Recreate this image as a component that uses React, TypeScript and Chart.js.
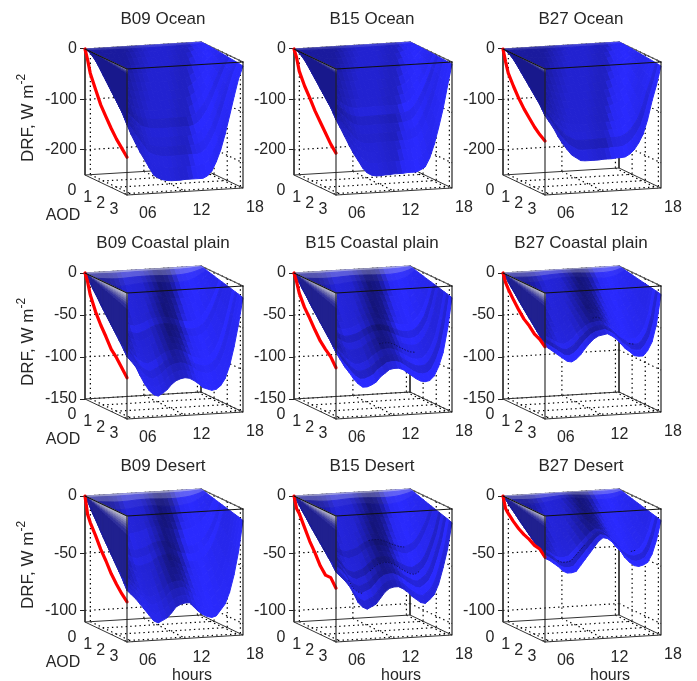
import React, { useEffect, useRef } from "react";
import { Chart, registerables } from "chart.js";

Chart.register(...registerables);

// ---- data ----
const hours = [5.4,5.9,6.4,6.9,7.4,7.9,8.4,8.9,9.4,9.9,10.4,10.9,11.4,11.9,12.4,12.9,13.4,13.9,14.4,14.9,15.4,15.9,16.4,16.9,17.4,17.9,18.4];
const aodGrid = [0,0.05,0.2,0.4,0.6,0.8,1,1.2,1.4,1.6,1.8,2,2.2,2.4,2.6,2.8,3,3.2];
const redAod = [0,0.2,0.4,0.8,1.2,1.6,2,2.4,2.8,3.2];

const frontB09Ocean = [-111,-132,-150,-168,-183,-199,-214,-220,-224,-226,-227,-227,-227,-226,-226,-226,-226,-226,-222,-213,-195,-172,-141,-105,-68,-33,-8];
const frontB15Ocean = [-101,-118,-136,-154,-171,-185,-200,-210,-215,-217,-217,-216,-216,-215,-215,-215,-214,-214,-214,-210,-205,-188,-162,-129,-92,-47,-4];
const frontB27Ocean = [-93,-106,-120,-137,-151,-163,-174,-180,-186,-187,-187,-187,-187,-186,-186,-186,-185,-185,-184,-179,-171,-158,-141,-113,-76,-45,-8];
const frontB09Coast = [-76,-82,-89,-100,-110,-118,-123,-125,-122,-118,-112,-108,-106,-105,-106,-109,-113,-118,-120,-122,-121,-117,-109,-94,-72,-45,-14];
const frontB15Coast = [-71,-80,-89,-96,-104,-110,-114,-114,-112,-109,-103,-99,-95,-94,-94,-96,-100,-104,-108,-111,-112,-111,-106,-95,-79,-51,-14];
const frontB27Coast = [-63,-67,-71,-75,-79,-83,-84,-81,-76,-69,-63,-58,-55,-54,-53,-56,-60,-66,-72,-76,-81,-82,-82,-76,-66,-45,-10];
const frontB09Desert = [-65,-69,-73,-78,-83,-88,-93,-95,-93,-91,-87,-82,-80,-79,-79,-83,-87,-90,-92,-93,-92,-87,-82,-72,-57,-37,-10];
const frontB15Desert = [-49,-53,-57,-62,-69,-77,-81,-83,-81,-79,-74,-69,-66,-65,-65,-67,-70,-74,-77,-80,-81,-78,-74,-65,-51,-35,-12];
const frontB27Desert = [-37,-39,-42,-45,-49,-51,-51,-50,-45,-40,-35,-30,-25,-22,-23,-26,-31,-35,-41,-45,-48,-49,-48,-46,-39,-27,-10];

const redB09Ocean = [0,-19,-43,-70,-96,-115,-133,-149,-162,-175];
const redB15Ocean = [0,-15,-39,-63,-82,-103,-120,-137,-154,-167];
const redB27Ocean = [0,-23,-43,-64,-83,-99,-112,-125,-135,-143];
const redB09Coast = [0,-9,-23,-40,-53,-64,-76,-83,-92,-101];
const redB15Coast = [0,-9,-21,-35,-45,-56,-66,-73,-79,-89];
const redB27Coast = [0,-10,-16,-26,-35,-43,-48,-55,-58,-64];
const redB09Desert = [0,-15,-21,-30,-40,-48,-57,-64,-70,-75];
const redB15Desert = [0,-10,-13,-23,-33,-41,-50,-56,-56,-63];
const redB27Desert = [0,-10,-13,-18,-22,-25,-27,-30,-31,-36];

// share of the front-edge DRF reached at each AOD of aodGrid
const fracOcean = [0,0.002,0.01,0.03,0.07,0.12,0.18,0.25,0.32,0.39,0.46,0.53,0.6,0.67,0.74,0.81,0.9,1];
const fracLand = [0,0.015,0.06,0.12,0.19,0.25,0.31,0.38,0.44,0.5,0.56,0.62,0.68,0.74,0.8,0.86,0.93,1];

const hourTicks = [6, 12, 18];
const hourLabels = ["06", "12", "18"];
const aodTicks = [0, 1, 2, 3];
const ticksOcean = [0, -100, -200];
const ticksCoast = [0, -50, -100, -150];
const ticksDesert = [0, -50, -100];
const bottomOcean = 250;
const bottomCoast = 150;
const bottomDesert = 110;

// thin dark creases on some surfaces: [aodGrid index, first hour index, last hour index]
const creasesB15Coast = [[13, 12, 20]];
const creasesB27Coast = [[13, 13, 15], [15, 20, 21]];
const creasesB15Desert = [[9, 12, 20], [13, 10, 21], [15, 4, 7]];
const creasesB27Desert = [[15, 4, 10], [14, 21, 22]];
const creasesNone: number[][] = [];

// ---- styles ----
const FONT = "'Liberation Sans', Arial, sans-serif";
const TEXT = "#262626";
const oceanStops = [[5.4,.62],[6.5,.72],[8,.82],[10,.82],[11.5,.76],[12.3,.76],[13,.95],[14.5,1],[16,.92],[18.4,1]];
const landStops = [[5.4,.6],[6.3,.68],[7.4,.86],[9.1,.82],[10.2,.64],[11.1,.47],[12.2,.55],[13.4,.95],[14.7,1],[16,.95],[17.5,.9],[18.4,.95]];
const rimOcean = [0,0,0,0,0,0,0,0,0,0,0,0,0,.05,.1,.15,.25];
const rimLand = [0,0,0,0,0,0,0,0,0,0,0,.05,.1,.15,.3,.45,.55];
const hazeOcean = [.35,.12,0,0,0,0,0,0,0,0,0,0,0,0,0,0,0];
const hazeLand = [.6,.28,.05,0,0,0,0,0,0,0,0,0,0,0,0,0,0];
const wedgeFracOcean = [0,.02,.04,.07,.1,1];
const wedgeColorOcean = ["#9c9cb0","#7070a4","#44449a","#262690","#18188c"];
const wedgeFracLand = [0,.03,.06,.09,.12,.16,.2,.26,1];
const wedgeColorLand = ["#c0c0cc","#aaaac4","#9090bc","#7878b4","#6060aa","#4444a2","#30309c","#20208f","#1a1a8e"].slice(0, 8);
const ringsByPanel = [
  [1,1,1,1,1,1,1,1,1,1,1,.95,1.03,1,.96,1.03,1],
  [1,1,1,1,1,1,1,1,1,1,1.05,.95,1,.97,1,1,1],
  [1,1,1,1,1,1,1,1,1,1,1,1,1,1,1,.9,1],
  [1,1,1,1,1,1,1,1,1.08,.97,1,1,1,1.08,.97,1,1],
  [1,1,1,1,1,1,1,1,1,1.05,.9,1,.93,.93,1,.86,1.1],
  [1,1,1,1,1,1,1,1,1,1,1,1,1,1,1.05,.86,1.1],
  [1,1,1,1,1,1,1.06,1.06,1,1.06,1,1,1,1,1,1,1],
  [1,1,1,1,1,1,1,1,1,.9,1,1,.85,1,.86,1.05,.9],
  [1,1,1,1,1,1,1,1,1,1,1,1,1,1,1.1,.88,1.15],
];

// ---- projection of the MATLAB style 3-D box (px per unit) ----
const PX_HOUR = 116 / 13;
const PX_AOD_X = 42 / 3.2;
const PX_AOD_Y = 20 / 3.2;
const RISE_HOUR = 7 / 13;
const BOX_H = 126;
const H0 = hours[0];
const H1 = hours[hours.length - 1];
const AMAX = aodGrid[aodGrid.length - 1];

type Spec = { title: string; front: number[]; red: number[]; frac: number[]; ticks: number[]; bottom: number; stops: number[][]; skew: number; rim: number[]; haze: number[]; wf: number[]; wc: string[]; creases: number[][]; };
const land = (title: string, front: number[], red: number[], ticks: number[], bottom: number, creases: number[][]): Spec => ({ title, front, red, frac: fracLand, ticks, bottom, stops: landStops, skew: 0.77, rim: rimLand, haze: hazeLand, wf: wedgeFracLand, wc: wedgeColorLand, creases });
const ocean = (title: string, front: number[], red: number[]): Spec => ({ title, front, red, frac: fracOcean, ticks: ticksOcean, bottom: bottomOcean, stops: oceanStops, skew: 1.47, rim: rimOcean, haze: hazeOcean, wf: wedgeFracOcean, wc: wedgeColorOcean, creases: creasesNone });
const panels: Spec[] = [
  ocean("B09 Ocean", frontB09Ocean, redB09Ocean),
  ocean("B15 Ocean", frontB15Ocean, redB15Ocean),
  ocean("B27 Ocean", frontB27Ocean, redB27Ocean),
  land("B09 Coastal plain", frontB09Coast, redB09Coast, ticksCoast, bottomCoast, creasesNone),
  land("B15 Coastal plain", frontB15Coast, redB15Coast, ticksCoast, bottomCoast, creasesB15Coast),
  land("B27 Coastal plain", frontB27Coast, redB27Coast, ticksCoast, bottomCoast, creasesB27Coast),
  land("B09 Desert", frontB09Desert, redB09Desert, ticksDesert, bottomDesert, creasesNone),
  land("B15 Desert", frontB15Desert, redB15Desert, ticksDesert, bottomDesert, creasesB15Desert),
  land("B27 Desert", frontB27Desert, redB27Desert, ticksDesert, bottomDesert, creasesB27Desert),
];

const lerpStops = (stops: number[][], q: number) => {
  if (q <= stops[0][0]) return stops[0][1];
  for (let i = 1; i < stops.length; i++) {
    if (q <= stops[i][0]) {
      const t = (q - stops[i - 1][0]) / (stops[i][0] - stops[i - 1][0]);
      return stops[i - 1][1] + t * (stops[i][1] - stops[i - 1][1]);
    }
  }
  return stops[stops.length - 1][1];
};

function surfaceColor(p: Spec, idx: number, k: number, j: number) {
  const h = (hours[k] + hours[k + 1]) / 2;
  const a = (aodGrid[j] + aodGrid[j + 1]) / 2;
  let s = lerpStops(p.stops, h - (AMAX - a) * p.skew);
  s = s + (1 - s) * p.rim[j];
  s = s * ringsByPanel[idx][j];
  s = Math.min(1, s);
  const w = p.haze[j];
  const mix = (c: number) => Math.round(c + (235 - c) * w);
  return `rgb(${mix(42 * s)},${mix(42 * s)},${mix(255 * s)})`;
}

function buildDatasets(p: Spec, idx: number) {
  const pxPerDrf = BOX_H / p.bottom;
  const pt = (h: number, a: number, drf: number) => ({
    x: h + (a * PX_AOD_X) / PX_HOUR,
    y: drf - (a * PX_AOD_Y - (h - H0) * RISE_HOUR) / pxPerDrf,
  });
  const poly = (points: any[], color: string) => ({
    data: [...points, points[0]], showLine: true, fill: "shape", backgroundColor: color, borderColor: color, borderWidth: 1, pointRadius: 0, clip: false, tension: 0,
  });
  const line = (points: any[], color: string, width = 1, dash: number[] = []) => ({
    data: points, showLine: true, fill: false, borderColor: color, backgroundColor: color, borderWidth: width, borderDash: dash, pointRadius: 0, clip: false, tension: 0, borderJoinStyle: "round", borderCapStyle: dash.length ? "butt" : "round",
  });
  const DOT = [1.4, 3.2];
  const bot = -p.bottom;
  const ds: any[] = [];
  // wall and floor grid
  for (const v of p.ticks) {
    ds.push(line([pt(H0, 0, v), pt(H1, 0, v)], "#000", 1.2, DOT));
    ds.push(line([pt(H1, 0, v), pt(H1, AMAX, v)], "#000", 1.2, DOT));
  }
  for (const h of hourTicks) {
    ds.push(line([pt(h, 0, 0), pt(h, 0, bot)], "#000", 1.2, DOT));
    ds.push(line([pt(h, 0, bot), pt(h, AMAX, bot)], "#000", 1.2, DOT));
  }
  for (const a of aodTicks.slice(1)) {
    ds.push(line([pt(H1, a, 0), pt(H1, a, bot)], "#000", 1.2, DOT));
    ds.push(line([pt(H0, a, bot), pt(H1, a, bot)], "#000", 1.2, DOT));
  }
  // rear edges of the box
  const rear = "#333";
  ds.push(line([pt(H0, 0, 0), pt(H1, 0, 0), pt(H1, AMAX, 0)], "#555", 1.2));
  ds.push(line([pt(H0, 0, 0), pt(H0, 0, bot)], rear));
  ds.push(line([pt(H1, 0, 0), pt(H1, 0, bot)], rear));
  ds.push(line([pt(H0, AMAX, bot), pt(H0, 0, bot), pt(H1, 0, bot), pt(H1, AMAX, bot), pt(H0, AMAX, bot)], rear));
  // surface
  for (let j = 0; j < aodGrid.length - 1; j++) {
    for (let w = 0; w < p.wf.length - 1; w++) {
      const d = (frac: number, row: number) => p.front[0] * p.frac[row] * frac;
      ds.push(poly([
        pt(H0, aodGrid[j], d(p.wf[w], j)), pt(H0, aodGrid[j + 1], d(p.wf[w], j + 1)),
        pt(H0, aodGrid[j + 1], d(p.wf[w + 1], j + 1)), pt(H0, aodGrid[j], d(p.wf[w + 1], j)),
      ], p.wc[w]));
    }
    for (let k = 0; k < hours.length - 1; k++) {
      ds.push(poly([
        pt(hours[k], aodGrid[j], p.front[k] * p.frac[j]),
        pt(hours[k + 1], aodGrid[j], p.front[k + 1] * p.frac[j]),
        pt(hours[k + 1], aodGrid[j + 1], p.front[k + 1] * p.frac[j + 1]),
        pt(hours[k], aodGrid[j + 1], p.front[k] * p.frac[j + 1]),
      ], surfaceColor(p, idx, k, j)));
    }
  }
  for (const [j, k0, k1] of p.creases) {
    const pts = [];
    for (let k = k0; k <= k1; k++) pts.push(pt(hours[k], aodGrid[j], p.front[k] * p.frac[j]));
    ds.push(line(pts, "#0c0c50", 0.9, [1.5, 1.5]));
  }
  // measured curve on the sunrise wall
  ds.push(line(redAod.map((a, i) => pt(H0, a, p.red[i])), "#ff0000", 3.2));
  // front edges
  ds.push(line([pt(H0, 0, 0), pt(H0, AMAX, 0), pt(H1, AMAX, 0)], "#111", 1.1));
  ds.push(line([pt(H0, AMAX, 0), pt(H0, AMAX, bot)], "#222", 1.1));
  ds.push(line([pt(H1, AMAX, 0), pt(H1, AMAX, bot)], "#111", 1.1));
  return { datasets: ds.reverse(), pt };
}

function Panel({ idx }: { idx: number }) {
  const ref = useRef<HTMLCanvasElement | null>(null);
  const p = panels[idx];
  const col = idx % 3;
  const row = Math.floor(idx / 3);
  useEffect(() => {
    const { datasets, pt } = buildDatasets(p, idx);
    const pxPerDrf = BOX_H / p.bottom;
    const labels = {
      id: "boxLabels",
      afterDraw(chart: any) {
        const { ctx, scales } = chart;
        const at = (h: number, a: number, v: number) => {
          const q = pt(h, a, v);
          return { x: scales.x.getPixelForValue(q.x), y: scales.y.getPixelForValue(q.y) };
        };
        ctx.save();
        ctx.fillStyle = TEXT;
        ctx.textAlign = "center";
        ctx.textBaseline = "middle";
        ctx.font = `16px ${FONT}`;
        const bot = -p.bottom;
        hourTicks.forEach((h, i) => {
          const q = at(h, AMAX, bot);
          ctx.fillText(hourLabels[i], q.x + 15.5, q.y + 19);
        });
        aodTicks.forEach((a) => {
          const q = at(H0, a, bot);
          ctx.fillText(String(a), q.x + (a === 0 ? -13 : -10.5), q.y + 16);
        });
        if (col === 0) {
          const q = at(H0, 0, bot);
          ctx.fillText("AOD", q.x - 22, q.y + 41);
          ctx.save();
          ctx.translate(28, 114);
          ctx.rotate(-Math.PI / 2);
          ctx.textAlign = "left";
          ctx.font = `17px ${FONT}`;
          const main = "DRF, W m";
          const w = ctx.measureText(main).width;
          ctx.fillText(main, -48, 0);
          ctx.font = `12px ${FONT}`;
          ctx.fillText("-2", -48 + w, -6);
          ctx.restore();
        }
        if (row === 2) {
          const q = at(H0, AMAX, bot);
          ctx.font = `16px ${FONT}`;
          ctx.fillText("hours", q.x + 65, q.y + 33.5);
        }
        ctx.restore();
      },
    };
    const chart = new Chart(ref.current as HTMLCanvasElement, {
      type: "scatter",
      data: { datasets },
      plugins: [labels],
      options: {
        responsive: false,
        animation: false,
        events: [],
        layout: { padding: { left: 0, right: 0, top: 0, bottom: 31 } },
        plugins: {
          legend: { display: false },
          tooltip: { enabled: false },
          title: { display: true, text: p.title, color: TEXT, font: { family: FONT, size: 17, weight: "normal" }, padding: { top: 9, bottom: 6.6 } },
        },
        scales: {
          x: { type: "linear", display: false, min: H0, max: H0 + 241 / PX_HOUR },
          y: {
            type: "linear",
            min: -156 / pxPerDrf,
            max: 13 / pxPerDrf,
            afterBuildTicks: (s: any) => { s.ticks = p.ticks.map((value) => ({ value })); },
            afterFit: (s: any) => { s.width = 85; },
            border: { display: false },
            grid: { drawOnChartArea: false, drawTicks: true, tickLength: 5, tickColor: "#222" },
            ticks: { color: TEXT, font: { family: FONT, size: 16 }, padding: 3, autoSkip: false, callback: (v: any) => String(v) },
          },
        },
      } as any,
    } as any);
    return () => chart.destroy();
  }, [idx]);
  return (
    <canvas
      ref={ref}
      width={326}
      height={236}
      style={{ position: "absolute", left: col * 209, top: [0, 224, 447][row], width: 326, height: 236 }}
    />
  );
}

export default function App() {
  return (
    <div style={{ position: "absolute", left: 0, top: 0, width: 697, height: 681, overflow: "hidden", background: "#fff" }}>
      {panels.map((_, i) => <Panel key={i} idx={i} />)}
    </div>
  );
}
